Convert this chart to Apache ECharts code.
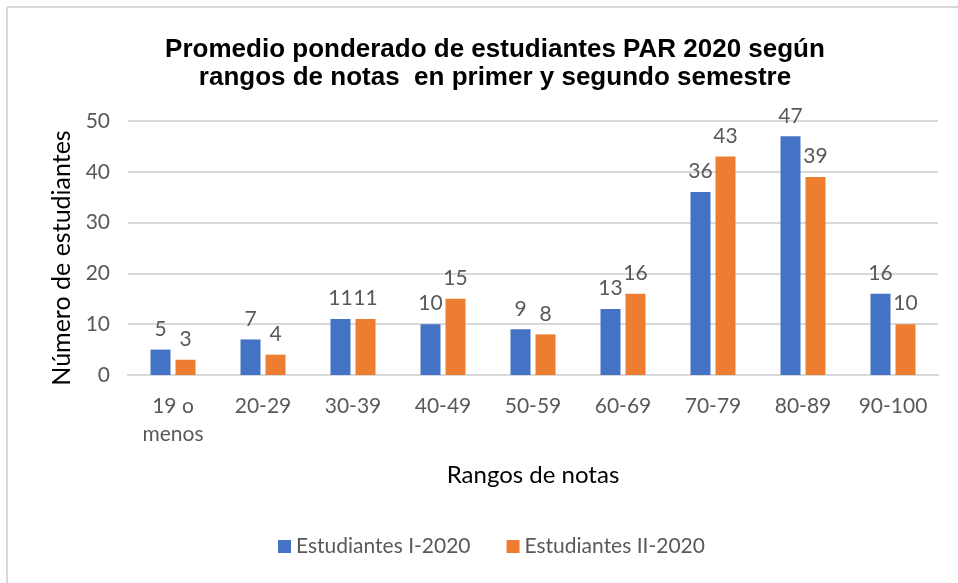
<!DOCTYPE html>
<html>
<head>
<meta charset="utf-8">
<script src="https://cdn.jsdelivr.net/npm/echarts@6/dist/echarts.min.js"></script>
<style>
  html, body { margin: 0; padding: 0; background: #fff; }
  #chart { width: 958px; height: 583px; }
</style>
</head>
<body>
<div id="chart"></div>
<script>
// datos
const rangos = ['19 o\nmenos', '20-29', '30-39', '40-49', '50-59', '60-69', '70-79', '80-89', '90-100'];
const semestre1 = [5, 7, 11, 10, 9, 13, 36, 47, 16];
const semestre2 = [3, 4, 11, 15, 8, 16, 43, 39, 10];
const yTicks = [0, 10, 20, 30, 40, 50];

const fuente = 'Lato, "Open Sans", sans-serif';
const gris = '#595959';

const chart = echarts.init(document.getElementById('chart'), null, { renderer: 'canvas' });

const etiqueta = {
  show: true,
  position: 'top',
  distance: 10,
  color: gris,
  fontSize: 21,
  fontFamily: fuente
};

chart.setOption({
  animation: false,
  title: {
    text: 'Promedio ponderado de estudiantes PAR 2020 según\nrangos de notas  en primer y segundo semestre',
    left: 490,
    top: 31,
    textAlign: 'center',
    textStyle: {
      fontFamily: '"Liberation Sans Narrow", "Liberation Sans", Arial, sans-serif',
      fontWeight: 'bold',
      fontSize: 26,
      lineHeight: 28,
      color: '#000'
    }
  },
  legend: {
    bottom: 21,
    left: 273,
    itemWidth: 13,
    itemHeight: 13,
    itemGap: 36,
    icon: 'rect',
    textStyle: { color: gris, fontSize: 21, fontFamily: fuente },
    data: ['Estudiantes I-2020', 'Estudiantes II-2020']
  },
  grid: {
    left: 128,
    right: 20,
    top: 121,
    bottom: 208,
    containLabel: false
  },
  xAxis: {
    type: 'category',
    data: rangos,
    name: 'Rangos de notas',
    nameLocation: 'middle',
    nameGap: 88,
    nameTextStyle: { color: '#000', fontSize: 24, fontFamily: fuente },
    axisLine: { lineStyle: { color: '#d9d9d9', width: 2 } },
    axisTick: { show: false },
    axisLabel: {
      color: gris,
      fontSize: 21,
      fontFamily: fuente,
      margin: 17,
      lineHeight: 28
    }
  },
  yAxis: {
    type: 'value',
    min: yTicks[0],
    max: yTicks[yTicks.length - 1],
    interval: 10,
    name: 'Número de estudiantes',
    nameLocation: 'middle',
    nameGap: 54,
    nameTextStyle: { color: '#000', fontSize: 25, fontFamily: fuente, padding: [0, 20, 0, 0] },
    axisLine: { show: false },
    axisTick: { show: false },
    axisLabel: { color: gris, fontSize: 21, fontFamily: fuente, margin: 18 },
    splitLine: { lineStyle: { color: '#d9d9d9', width: 2 } }
  },
  series: [
    {
      name: 'Estudiantes I-2020',
      type: 'bar',
      data: semestre1,
      barWidth: 20,
      barGap: '25%',
      itemStyle: { color: '#4472c4' },
      label: etiqueta
    },
    {
      name: 'Estudiantes II-2020',
      type: 'bar',
      data: semestre2,
      barWidth: 20,
      itemStyle: { color: '#ed7d31' },
      label: etiqueta
    }
  ],
  graphic: [
    { type: 'line', shape: { x1: 7, y1: 7, x2: 958, y2: 7 }, style: { stroke: '#d9d9d9', lineWidth: 2 } },
    { type: 'line', shape: { x1: 7, y1: 7, x2: 7, y2: 583 }, style: { stroke: '#d9d9d9', lineWidth: 2 } }
  ]
});
</script>
</body>
</html>
